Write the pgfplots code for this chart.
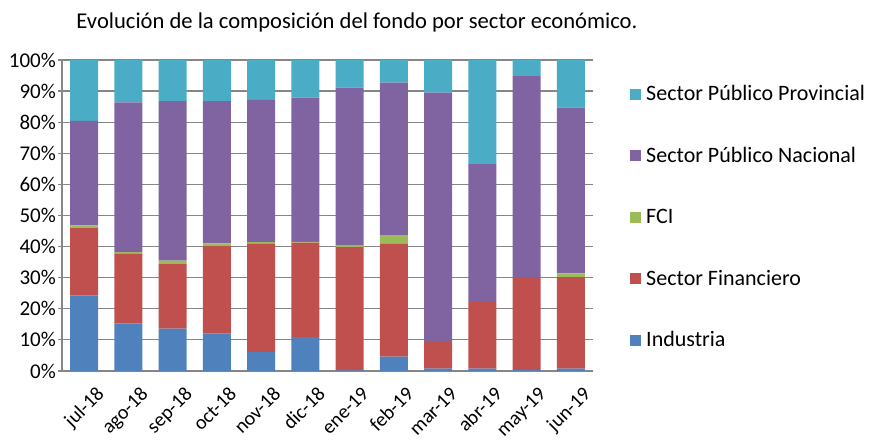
\documentclass[border=0pt]{standalone}
\usepackage{fontspec}
\setmainfont{Carlito}
\usepackage{pgfplots}
\usepackage{pgfplotstable}
\pgfplotsset{compat=1.18}
\definecolor{cInd}{HTML}{4F81BD}
\definecolor{cFin}{HTML}{C0504D}
\definecolor{cFCI}{HTML}{9BBB59}
\definecolor{cNac}{HTML}{8064A2}
\definecolor{cProv}{HTML}{4BACC6}
\definecolor{cGrid}{HTML}{868686}
\pgfplotstableread{
x ind fin fci nac prov
0 24.2 21.9 0.7 33.6 19.6
1 15.2 22.5 0.5 48.2 13.6
2 13.6 20.8 1.1 51.3 13.2
3 12.0 28.3 0.7 45.8 13.2
4 6.1 34.8 0.5 45.8 12.8
5 10.9 30.4 0.2 46.4 12.1
6 0.2 39.6 0.5 50.8 8.9
7 4.6 36.3 2.8 49.0 7.3
8 0.8 8.5 0.0 80.2 10.5
9 0.8 21.4 0.0 44.3 33.5
10 0.3 29.9 0.0 64.6 5.2
11 0.8 29.4 1.2 53.3 15.3
}\data
\begin{document}
\begin{tikzpicture}[x=1pt,y=1pt]
\path[use as bounding box] (-62,-73) rectangle (808,371);
\begin{axis}[
  at={(0,0)}, anchor=south west, scale only axis,
  width=531pt, height=311pt,
  ybar stacked, bar width=0.63,
  xmin=-0.5, xmax=11.5, ymin=0, ymax=100,
  xtick={0,...,11},
  xticklabels={jul-18,ago-18,sep-18,oct-18,nov-18,dic-18,ene-19,feb-19,mar-19,abr-19,may-19,jun-19},
  x tick label style={xshift=11pt, yshift=-9pt, rotate=45, anchor=north east, font=\fontsize{20}{22}\selectfont, inner sep=1pt},
  major x tick style={draw=none},
  ytick={0,10,...,100},
  yticklabel={\pgfmathprintnumber{\tick}\%},
  y tick label style={font=\fontsize{21}{22}\selectfont, inner xsep=2pt},
  /pgf/number format/assume math mode=true,
  ymajorgrids, grid style={cGrid, line width=1.2pt},
  axis x line*=bottom, axis y line*=left,
  axis line style={cGrid, line width=1.2pt, -},
  major y tick style={cGrid, line width=1.2pt},
  tick align=outside, major tick length=4pt,
  ytick pos=left,
  legend style={draw=none, fill=none, at={(1.0697,0.495)}, anchor=west,
    font=\fontsize{22}{22}\selectfont, row sep=41pt, inner sep=0pt,
    legend cell align=left,
    /tikz/every odd column/.append style={column sep=3pt}},
  legend image code/.code={\fill[#1] (0pt,-5.5pt) rectangle (11pt,5.5pt);},
  reverse legend,
]
\addplot[fill=cInd, draw=none] table[x=x,y=ind]{\data};
\addlegendentry{Industria}
\addplot[fill=cFin, draw=none] table[x=x,y=fin]{\data};
\addlegendentry{Sector Financiero}
\addplot[fill=cFCI, draw=none] table[x=x,y=fci]{\data};
\addlegendentry{FCI}
\addplot[fill=cNac, draw=none] table[x=x,y=nac]{\data};
\addlegendentry{Sector Público Nacional}
\addplot[fill=cProv, draw=none] table[x=x,y=prov]{\data};
\addlegendentry{Sector Público Provincial}
\end{axis}
\node[anchor=base, font=\fontsize{22.6}{23}\selectfont] at (295,342) {Evolución de la composición del fondo por sector económico.};
\end{tikzpicture}
\end{document}
